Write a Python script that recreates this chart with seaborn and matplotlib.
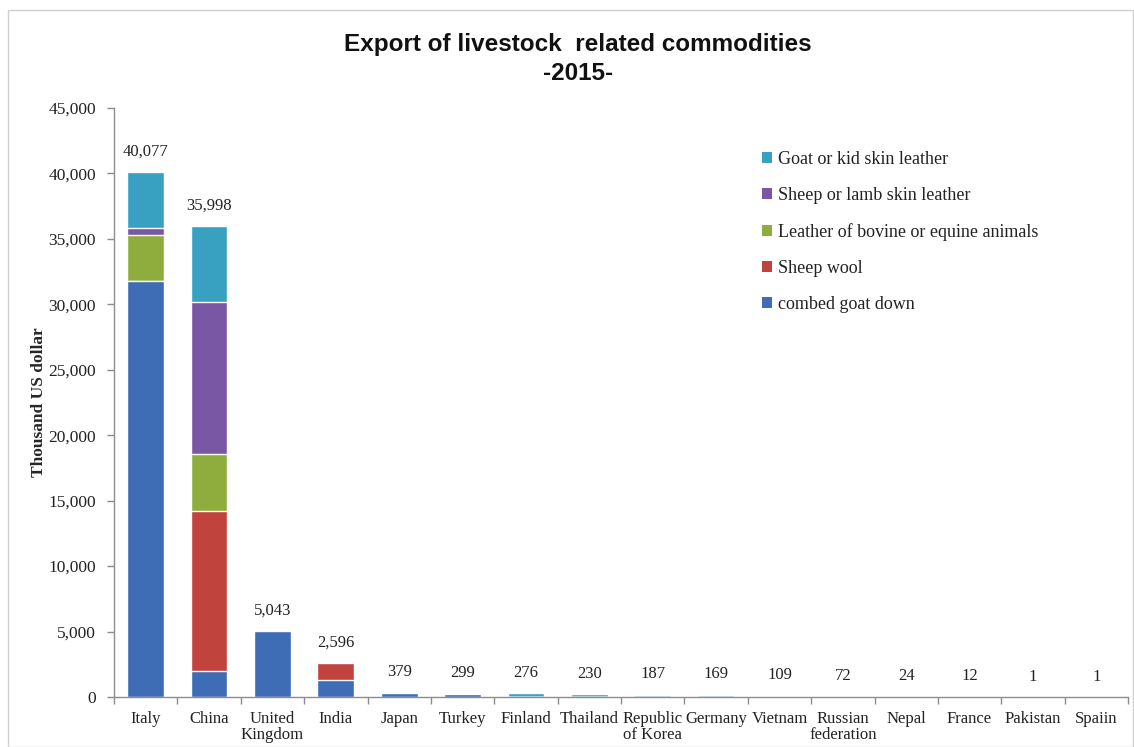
import matplotlib
matplotlib.use("Agg")
import matplotlib.pyplot as plt
import matplotlib.ticker as mticker
from matplotlib.patches import Patch, Rectangle
import seaborn as sns
import pandas as pd
import numpy as np

countries = ["Italy", "China", "United\nKingdom", "India", "Japan", "Turkey", "Finland",
             "Thailand", "Republic\nof Korea", "Germany", "Vietnam", "Russian\nfederation",
             "Nepal", "France", "Pakistan", "Spaiin"]
totals = [40077, 35998, 5043, 2596, 379, 299, 276, 230, 187, 169, 109, 72, 24, 12, 1, 1]

combed_goat_down = [31800, 2000, 5043, 1300, 330, 250, 0, 0, 0, 0, 0, 0, 0, 0, 0, 0]
sheep_wool       = [0, 12200, 0, 1296, 0, 0, 0, 0, 0, 0, 0, 0, 0, 0, 0, 0]
leather_bovine   = [3500, 4400, 0, 0, 49, 0, 0, 0, 0, 0, 0, 0, 0, 0, 0, 0]
sheep_lamb_skin  = [500, 11600, 0, 0, 0, 0, 0, 0, 0, 0, 0, 0, 0, 0, 0, 0]
goat_kid_skin    = [4277, 5798, 0, 0, 0, 49, 276, 230, 187, 169, 109, 72, 24, 12, 1, 1]

series_names = ["combed goat down", "Sheep wool", "Leather of bovine or equine animals",
                "Sheep or lamb skin leather", "Goat or kid skin leather"]
series_vals = [combed_goat_down, sheep_wool, leather_bovine, sheep_lamb_skin, goat_kid_skin]
colors = ["#3E6DB5", "#C0433D", "#8EAD3D", "#7A57A5", "#38A1C1"]

sns.set_theme(style="white")
plt.rcParams["font.family"] = ["Liberation Serif", "DejaVu Serif"]

fig = plt.figure(figsize=(11.34, 7.47), dpi=100)
ax = fig.add_axes([114/1134, 50/747, (1128-114)/1134, (697-108)/747])

cum = np.cumsum(np.array(series_vals), axis=0)
# draw cumulative layers from top to bottom
for i in range(len(series_names) - 1, -1, -1):
    df = pd.DataFrame({"country": countries, "value": cum[i]})
    sns.barplot(data=df, x="country", y="value", order=countries, color=colors[i],
                width=0.58, edgecolor="white", linewidth=1.0, saturation=1, ax=ax)

for xi, t in enumerate(totals):
    ax.text(xi, t + 950, f"{t:,}", ha="center", va="bottom", fontsize=12, color="#222222")

ax.set_ylim(0, 45000)
ax.set_xlim(-0.5, len(countries) - 0.5)
ax.yaxis.set_major_locator(mticker.MultipleLocator(5000))
ax.yaxis.set_major_formatter(mticker.FuncFormatter(lambda v, p: f"{int(v):,}"))
ax.set_xlabel("")
ax.set_ylabel("Thousand US dollar", fontsize=12.5, fontweight="bold")
ax.yaxis.set_label_coords(-0.066, 0.5)

for s in ["top", "right"]:
    ax.spines[s].set_visible(False)
for s in ["left", "bottom"]:
    ax.spines[s].set_color("#8c8c8c")
    ax.spines[s].set_linewidth(1)

ax.tick_params(axis="y", which="major", left=True, length=5, width=1, color="#8c8c8c",
               labelsize=12.5, labelcolor="#222222", direction="out", pad=8)
ax.tick_params(axis="x", which="major", bottom=False, labelsize=12, labelcolor="#222222", pad=4)
ax.set_xticks(np.arange(-0.5, len(countries), 1.0), minor=True)
ax.tick_params(axis="x", which="minor", bottom=True, length=5, width=1, color="#8c8c8c",
               direction="out")
for lab in ax.get_xticklabels():
    lab.set_linespacing(1.0)
    lab.set_va("top")

handles = [Patch(facecolor=colors[i], edgecolor="none") for i in range(len(series_names) - 1, -1, -1)]
labels = [series_names[i] for i in range(len(series_names) - 1, -1, -1)]
leg = ax.legend(handles, labels, loc="upper left", bbox_to_anchor=(746/1134, 1 - 135/747),
                bbox_transform=fig.transFigure, frameon=False, fontsize=13,
                handlelength=0.55, handleheight=0.55, handletextpad=0.3, labelspacing=1.05)
for t in leg.get_texts():
    t.set_color("#222222")

fig.text(578/1134, 1 - 44/747, "Export of livestock  related commodities", ha="center",
         va="center", fontsize=17.5, fontweight="bold", family=["Liberation Sans", "DejaVu Sans"],
         color="#111111")
fig.text(578/1134, 1 - 73/747, "-2015-", ha="center", va="center", fontsize=17.5,
         fontweight="bold", family=["Liberation Sans", "DejaVu Sans"], color="#111111")

fig.patches.append(Rectangle((8/1134, 0), 1 - 8/1134 - 0.001, 1 - 10/747, transform=fig.transFigure,
                             fill=False, edgecolor="#d0d0d0", linewidth=1))

fig.savefig("out.png", dpi=100)
